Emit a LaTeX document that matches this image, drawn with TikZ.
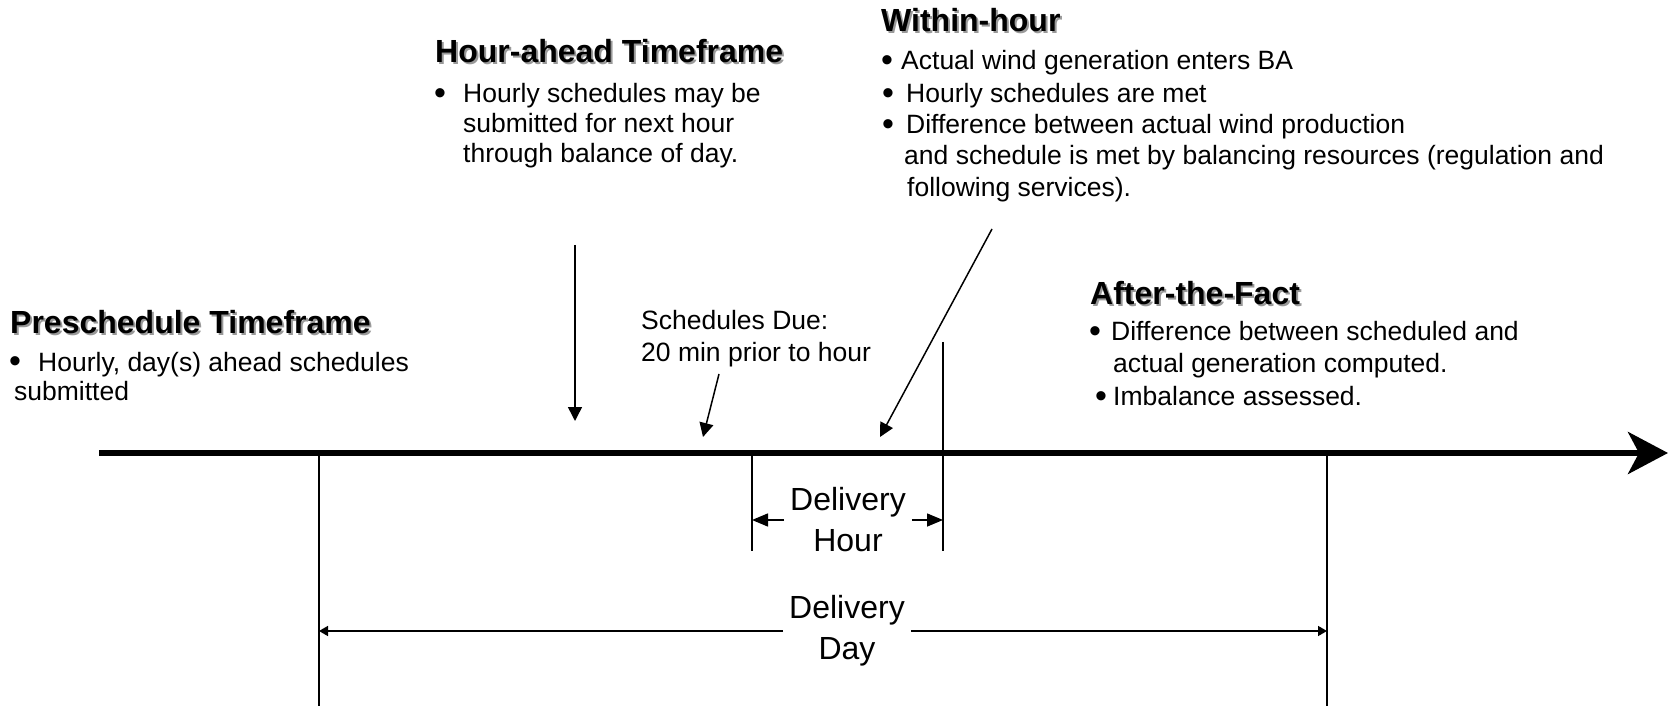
\documentclass[tikz,border=0pt]{standalone}
\usepackage{fontspec}
\setmainfont{Liberation Sans}
\usetikzlibrary{arrows.meta}

\begin{document}
\begin{tikzpicture}
[x=1pt,y=-1pt,
  headdecorate/.style={anchor=base west,inner sep=0pt,font=\bfseries\fontsize{32}{38}\selectfont},%
  shadowdecorate/.style={headdecorate,text=black!40},%
  textdecorate/.style={anchor=base west,inner sep=0pt,font=\fontsize{26.5}{30}\selectfont},%
  bulletdecorate/.style={anchor=base,inner sep=0pt,font=\fontsize{34}{30}\selectfont},%
  spandecorate/.style={align=center,inner xsep=6pt,inner ysep=0pt,font=\fontsize{32}{41}\selectfont},%
  linedecorate/.style={-,line width=1.5pt},%
  arrowdecorate/.style={-{Triangle[length=14pt,width=14pt]},line width=1.5pt},%
  hourdecorate/.style={-{Triangle[length=16pt,width=13pt]},line width=1.5pt},%
  daydecorate/.style={-{Triangle[length=9pt,width=10pt]},line width=1.5pt},%
  axisdecorate/.style={-{Stealth[length=40pt,width=42pt,inset=11pt]},line width=6pt}]
\useasboundingbox (0,0) rectangle (1671,711);
%% headings with shadow
\foreach \nodename/\x/\y/\txt in {
  pre/10/334/{Preschedule Timeframe}, hra/435/63/{Hour-ahead Timeframe},
  win/881/32/{Within-hour}, atf/1090/305/{After-the-Fact}} {
  \node (\nodename-sh) at (\x+2,\y+2) [shadowdecorate] {\txt};
  \node (\nodename) at (\x,\y) [headdecorate] {\txt};
}
%% text lines
\foreach \nodename/\x/\y/\txt in {
  pre1/38/371/{Hourly, day(s) ahead schedules}, pre2/14/400/{submitted},
  hra1/463/103/{Hourly schedules may be}, hra2/463/133/{submitted for next hour},
  hra3/463/163/{through balance of day.},
  win1/901/70/{Actual wind generation enters BA}, win2/906/103/{Hourly schedules are met},
  win3/906/134/{Difference between actual wind production},
  win4/904/165/{and schedule is met by balancing resources (regulation and},
  win5/907/197/{following services).},
  atf1/1111/341/{Difference between scheduled and}, atf2/1113/373/{actual generation computed.},
  atf3/1113/405/{Imbalance assessed.},
  due1/641/330/{Schedules Due:}, due2/641/362/{20 min prior to hour}} {
  \node (\nodename) at (\x,\y) [textdecorate] {\txt};
}
%% bullets
\foreach \nodename/\x/\y in {
  preb1/15/373, hrab1/440/105, winb1/887/72, winb2/888/105, winb3/888/136,
  atfb1/1095/343, atfb3/1101/407} {
  \node (\nodename) at (\x,\y) [bulletdecorate] {\textbullet};
}
%% time axis
\coordinate (axisstart) at (99,453);
\coordinate (axisend) at (1668,453);
\draw [axisdecorate] (axisstart) -- (axisend);
%% boundaries of hour and day
\foreach \nodename/\x/\ytop/\ybot in {
  daystart/319/453/706, hourstart/752/453/551, hourend/943/342/551, dayend/1327/453/706} {
  \coordinate (\nodename-top) at (\x,\ytop);
  \coordinate (\nodename-bot) at (\x,\ybot);
  \draw [linedecorate] (\nodename-top) -- (\nodename-bot);
}
%% delivery spans
\node (hourspan) at (848,520) [spandecorate] {Delivery\\Hour};
\node (dayspan) at (847,631) [spandecorate] {Delivery\\Day};
\draw [hourdecorate] (hourspan.west) -- (hourspan.west -| hourstart-top);
\draw [hourdecorate] (hourspan.east) -- (hourspan.east -| hourend-top);
\draw [daydecorate] (dayspan.west) -- (dayspan.west -| daystart-top);
\draw [daydecorate] (dayspan.east) -- (dayspan.east -| dayend-top);
%% pointers onto the axis
\foreach \nodename/\xa/\ya/\xb/\yb in {
  hrapoint/575/245/575/421, duepoint/719/374/703/437, winpoint/992/229/880/437} {
  \coordinate (\nodename-a) at (\xa,\ya);
  \coordinate (\nodename-b) at (\xb,\yb);
  \draw [arrowdecorate] (\nodename-a) -- (\nodename-b);
}
\end{tikzpicture}
\end{document}
